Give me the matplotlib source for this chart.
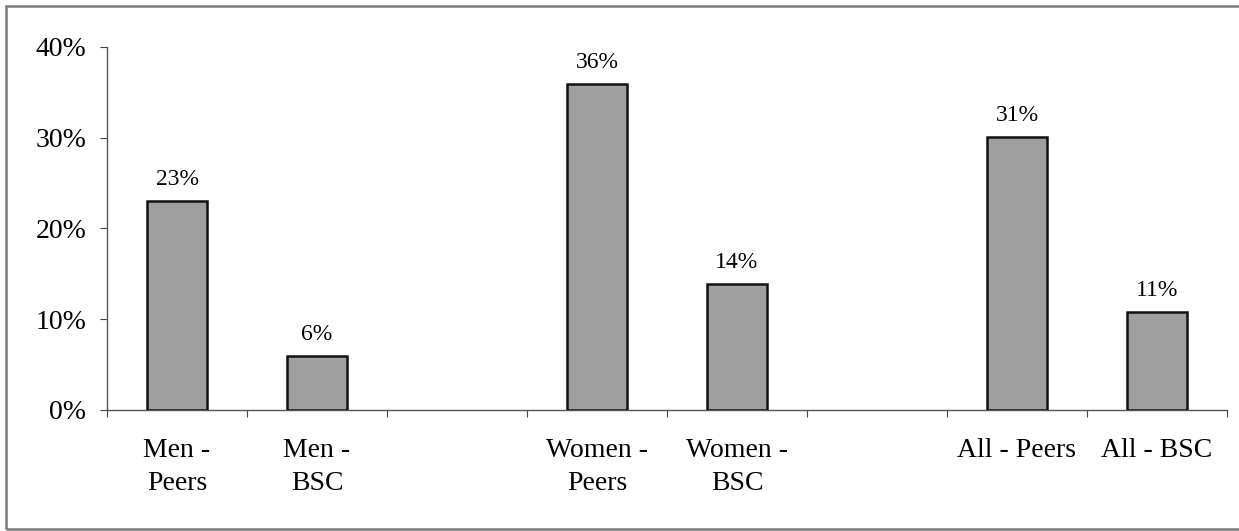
import numpy as np
import matplotlib.pyplot as plt
import matplotlib.ticker as ticker
from matplotlib.patches import Rectangle

#--------- data ---------
categories = ["Men -\nPeers", "Men -\nBSC", "", "Women -\nPeers", "Women -\nBSC", "", "All - Peers", "All - BSC"]
shares = [23, 6, np.nan, 35.9, 13.9, np.nan, 30.1, 10.8]
share_labels = ["23%", "6%", "", "36%", "14%", "", "31%", "11%"]

plt.rcParams['font.family'] = ['Liberation Serif', 'DejaVu Serif']

#--------- plotting ---------
fig = plt.figure(figsize=(12.39, 5.31), dpi=100)
ax = fig.add_axes([0.0864, 0.2279, 0.9039, 0.6836])

x = np.arange(len(categories))
bars = ax.bar(x, shares, width=0.43, color='#9f9f9f', edgecolor='#111111', linewidth=1.8, zorder=3)
for xi, v, lab in zip(x, shares, share_labels):
    if lab:
        ax.text(xi, v + 1.2, lab, ha='center', va='bottom', fontsize=17)

ax.set_xlim(-0.5, len(categories) - 0.5)
ax.set_ylim(0, 40)
ax.yaxis.set_major_locator(ticker.MultipleLocator(10))
ax.yaxis.set_major_formatter(ticker.FuncFormatter(lambda v, p: '%d%%' % v))

# boundaries get tick marks, labels sit in the middle of each slot
ax.set_xticks(np.arange(-0.5, len(categories)))
ax.xaxis.set_major_formatter(ticker.NullFormatter())
ax.set_xticks(x, minor=True)
ax.set_xticklabels(categories, minor=True, fontsize=20, linespacing=1.45)
ax.tick_params(axis='x', which='minor', length=0, pad=20)
ax.tick_params(axis='x', which='major', length=5, direction='out', color='#444444')
ax.tick_params(axis='y', length=5, direction='out', labelsize=20, pad=10, color='#444444')

for s in ['top', 'right']:
    ax.spines[s].set_visible(False)
for s in ['left', 'bottom']:
    ax.spines[s].set_color('#555555')
    ax.spines[s].set_linewidth(1.0)

# outer frame of the original chart
fig.patches.append(Rectangle((0.005, 0.004), 1.1, 0.985, transform=fig.transFigure,
                             fill=False, edgecolor='#7a7a7a', linewidth=1.8))

fig.savefig('out.png', dpi=100)
